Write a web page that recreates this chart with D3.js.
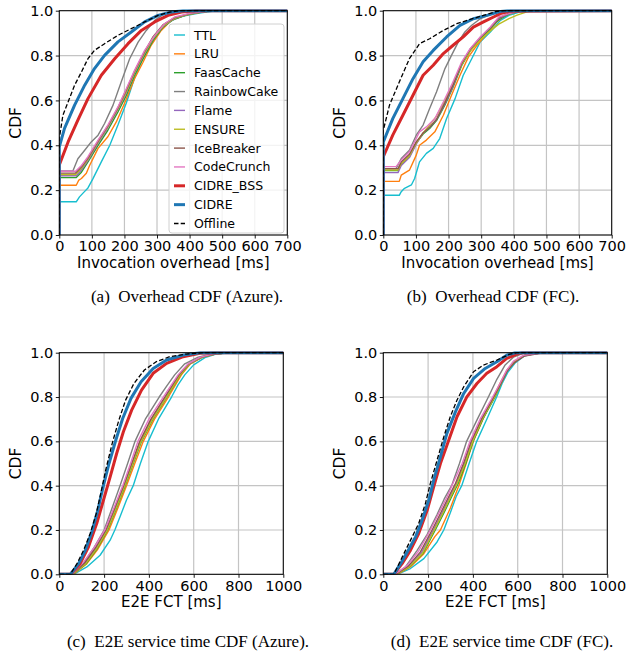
<!DOCTYPE html>
<html>
<head>
<meta charset="utf-8">
<script src="https://cdn.jsdelivr.net/npm/d3@7"></script>
<style>
  body { margin: 0; background: #fff; }
  text { font-family: "DejaVu Sans", sans-serif; }
  .caption { font-family: "Liberation Serif", "DejaVu Serif", serif; }
</style>
</head>
<body>
<svg id="chart" width="635" height="655"></svg>
<script>
const seriesNames = ["TTL", "LRU", "FaasCache", "RainbowCake", "Flame", "ENSURE",
  "IceBreaker", "CodeCrunch", "CIDRE_BSS", "CIDRE", "Offline"];

const yTicks = [0, 0.2, 0.4, 0.6, 0.8, 1.0];
const overheadTicks = [0, 100, 200, 300, 400, 500, 600, 700];
const fctTicks = [0, 200, 400, 600, 800, 1000];

// (a) overhead, Azure: [ms, cdf]
const overheadAzure = {
  TTL: [[0,0],[0,0.148],[52,0.148],[62,0.17],[75,0.19],[88,0.21],[103,0.25],[129,0.326],[155,0.40],[180,0.49],[206,0.59],[231,0.70],[257,0.79],[282,0.86],[303,0.905],[334,0.95],[380,0.976],[430,0.99],[480,1],[700,1]],
  LRU: [[0,0],[0,0.222],[52,0.222],[60,0.245],[68,0.252],[83,0.275],[93,0.31],[119,0.386],[149,0.438],[175,0.504],[200,0.586],[231,0.697],[257,0.77],[282,0.846],[313,0.912],[344,0.957],[385,0.979],[440,0.995],[480,1],[700,1]],
  FaasCache: [[0,0],[0,0.256],[52,0.256],[68,0.28],[88,0.326],[119,0.40],[149,0.467],[180,0.549],[206,0.623],[231,0.712],[262,0.80],[288,0.868],[318,0.927],[354,0.964],[400,0.985],[460,0.998],[700,1]],
  RainbowCake: [[0,0],[0,0.286],[42,0.286],[57,0.34],[78,0.378],[98,0.415],[119,0.445],[139,0.497],[165,0.579],[190,0.682],[216,0.786],[242,0.86],[267,0.912],[293,0.957],[323,0.987],[360,0.998],[700,1]],
  Flame: [[0,0],[0,0.264],[52,0.264],[68,0.29],[88,0.333],[119,0.41],[149,0.478],[180,0.56],[206,0.635],[231,0.722],[262,0.81],[288,0.875],[318,0.93],[354,0.966],[400,0.986],[460,0.998],[700,1]],
  ENSURE: [[0,0],[0,0.27],[50,0.27],[68,0.297],[88,0.338],[119,0.415],[149,0.483],[180,0.563],[206,0.64],[231,0.725],[262,0.813],[288,0.878],[318,0.932],[354,0.967],[400,0.986],[460,0.998],[700,1]],
  IceBreaker: [[0,0],[0,0.276],[50,0.276],[68,0.303],[88,0.343],[119,0.418],[149,0.486],[180,0.567],[206,0.648],[231,0.73],[262,0.818],[288,0.884],[318,0.937],[354,0.969],[400,0.987],[460,0.998],[700,1]],
  CodeCrunch: [[0,0],[0,0.284],[50,0.284],[68,0.31],[88,0.349],[119,0.423],[149,0.49],[180,0.571],[206,0.653],[231,0.734],[262,0.823],[293,0.89],[323,0.942],[354,0.972],[400,0.988],[460,0.998],[700,1]],
  CIDRE_BSS: [[0,0],[0,0.312],[27,0.415],[57,0.512],[88,0.608],[129,0.712],[170,0.786],[211,0.853],[252,0.912],[293,0.95],[334,0.979],[375,0.994],[420,1],[700,1]],
  CIDRE: [[0,0],[0,0.393],[16,0.475],[47,0.579],[78,0.668],[108,0.742],[139,0.801],[180,0.861],[221,0.905],[262,0.95],[303,0.979],[344,0.994],[380,1],[700,1]],
  Offline: [[0,0],[0,0.43],[11,0.534],[27,0.593],[47,0.668],[68,0.727],[88,0.786],[108,0.823],[139,0.853],[180,0.89],[221,0.92],[262,0.95],[303,0.979],[339,0.994],[370,1],[700,1]]
};

// (b) overhead, FC
const overheadFC = {
  TTL: [[0,0],[0,0.177],[49,0.177],[55,0.193],[65,0.208],[86,0.223],[96,0.252],[111,0.326],[132,0.364],[153,0.386],[173,0.43],[194,0.519],[220,0.608],[245,0.712],[271,0.786],[297,0.861],[328,0.905],[359,0.957],[385,0.979],[420,0.995],[450,1],[700,1]],
  LRU: [[0,0],[0,0.239],[49,0.239],[55,0.267],[80,0.289],[101,0.356],[111,0.40],[132,0.423],[158,0.46],[184,0.534],[209,0.623],[235,0.712],[261,0.794],[287,0.846],[318,0.898],[348,0.95],[374,0.979],[410,0.995],[440,1],[700,1]],
  FaasCache: [[0,0],[0,0.287],[45,0.287],[55,0.315],[80,0.35],[101,0.41],[122,0.45],[142,0.475],[163,0.51],[189,0.58],[214,0.66],[240,0.755],[266,0.82],[297,0.875],[328,0.92],[354,0.96],[385,0.985],[420,0.998],[700,1]],
  RainbowCake: [[0,0],[0,0.296],[39,0.296],[55,0.341],[80,0.378],[101,0.445],[122,0.49],[142,0.564],[163,0.638],[189,0.742],[209,0.801],[230,0.861],[250,0.905],[271,0.935],[297,0.964],[330,0.985],[365,0.998],[700,1]],
  Flame: [[0,0],[0,0.278],[45,0.278],[55,0.31],[80,0.345],[101,0.405],[122,0.455],[142,0.48],[163,0.515],[189,0.585],[214,0.665],[240,0.76],[266,0.825],[297,0.88],[328,0.925],[354,0.965],[385,0.987],[420,0.998],[700,1]],
  ENSURE: [[0,0],[0,0.29],[45,0.29],[55,0.318],[80,0.352],[101,0.41],[122,0.455],[142,0.49],[163,0.53],[189,0.6],[214,0.675],[240,0.76],[266,0.82],[297,0.87],[328,0.91],[354,0.94],[385,0.965],[410,0.98],[440,0.995],[460,1],[700,1]],
  IceBreaker: [[0,0],[0,0.296],[45,0.296],[55,0.325],[80,0.36],[101,0.415],[122,0.455],[142,0.48],[163,0.515],[189,0.59],[214,0.67],[240,0.765],[266,0.828],[297,0.88],[328,0.925],[354,0.967],[385,0.988],[420,0.998],[700,1]],
  CodeCrunch: [[0,0],[0,0.305],[39,0.305],[55,0.334],[80,0.371],[111,0.46],[132,0.482],[158,0.519],[184,0.593],[209,0.668],[240,0.771],[266,0.831],[297,0.883],[328,0.927],[354,0.972],[385,0.987],[420,0.998],[700,1]],
  CIDRE_BSS: [[0,0],[0,0.349],[29,0.445],[60,0.534],[91,0.623],[122,0.712],[153,0.757],[184,0.809],[214,0.846],[245,0.883],[276,0.927],[307,0.95],[338,0.972],[359,0.987],[390,0.998],[700,1]],
  CIDRE: [[0,0],[0,0.415],[29,0.519],[60,0.608],[91,0.697],[122,0.772],[153,0.823],[194,0.883],[235,0.935],[276,0.964],[318,0.979],[359,0.997],[380,1],[700,1]],
  Offline: [[0,0],[0,0.467],[19,0.579],[49,0.682],[80,0.786],[111,0.853],[142,0.875],[184,0.912],[225,0.942],[266,0.961],[307,0.979],[348,0.997],[370,1],[700,1]]
};

// (c) E2E FCT, Azure
const fctAzure = {
  TTL: [[0,0],[64,0],[123,0.033],[182,0.086],[227,0.154],[248,0.2],[275,0.27],[300,0.335],[330,0.4],[362,0.5],[397,0.6],[445,0.705],[501,0.8],[530,0.855],[560,0.9],[600,0.945],[650,0.978],[700,0.994],[760,1],[1000,1]],
  LRU: [[0,0],[64,0],[123,0.048],[170,0.11],[222,0.2],[262,0.3],[300,0.4],[337,0.5],[375,0.6],[425,0.7],[487,0.8],[545,0.9],[585,0.95],[640,0.98],[700,0.995],[760,1],[1000,1]],
  FaasCache: [[0,0],[60,0],[120,0.048],[168,0.115],[216,0.2],[256,0.3],[294,0.4],[330,0.5],[367,0.6],[418,0.7],[480,0.8],[540,0.9],[582,0.95],[638,0.98],[700,0.995],[760,1],[1000,1]],
  RainbowCake: [[0,0],[56,0],[108,0.048],[155,0.12],[200,0.2],[236,0.3],[271,0.4],[305,0.5],[338,0.6],[384,0.7],[446,0.8],[480,0.85],[515,0.9],[560,0.95],[620,0.98],[680,0.995],[730,1],[1000,1]],
  Flame: [[0,0],[58,0],[115,0.05],[165,0.12],[212,0.2],[252,0.3],[290,0.4],[326,0.5],[363,0.6],[413,0.7],[476,0.8],[537,0.9],[580,0.95],[636,0.98],[700,0.995],[760,1],[1000,1]],
  ENSURE: [[0,0],[60,0],[118,0.048],[167,0.117],[214,0.2],[254,0.3],[292,0.4],[328,0.5],[365,0.6],[416,0.7],[478,0.8],[539,0.9],[581,0.95],[637,0.98],[700,0.995],[760,1],[1000,1]],
  IceBreaker: [[0,0],[58,0],[112,0.05],[162,0.12],[208,0.2],[248,0.3],[287,0.4],[323,0.5],[359,0.6],[409,0.7],[471,0.8],[534,0.9],[578,0.95],[634,0.98],[700,0.995],[760,1],[1000,1]],
  CodeCrunch: [[0,0],[56,0],[108,0.055],[158,0.125],[203,0.2],[244,0.3],[283,0.4],[318,0.5],[351,0.6],[400,0.7],[464,0.8],[530,0.9],[575,0.95],[630,0.98],[690,0.995],[750,1],[1000,1]],
  CIDRE_BSS: [[0,0],[49,0],[93,0.048],[130,0.123],[167,0.229],[197,0.334],[227,0.44],[256,0.545],[286,0.643],[323,0.741],[367,0.831],[419,0.907],[479,0.952],[553,0.982],[627,0.997],[700,1],[1000,1]],
  CIDRE: [[0,0],[49,0],[86,0.048],[116,0.108],[145,0.191],[172,0.289],[192,0.38],[222,0.50],[252,0.605],[283,0.703],[320,0.794],[365,0.869],[419,0.929],[479,0.967],[553,0.989],[627,1],[1000,1]],
  Offline: [[0,0],[49,0],[79,0.048],[108,0.108],[138,0.184],[165,0.274],[185,0.364],[207,0.47],[236,0.59],[266,0.696],[296,0.786],[333,0.861],[380,0.922],[434,0.96],[493,0.982],[567,0.994],[641,1],[1000,1]]
};

// (d) E2E FCT, FC
const fctFC = {
  TTL: [[0,0],[62,0],[121,0.026],[181,0.071],[240,0.146],[270,0.2],[300,0.28],[325,0.35],[350,0.4],[383,0.5],[417,0.6],[462,0.7],[506,0.8],[530,0.86],[555,0.91],[590,0.955],[630,0.985],[680,0.998],[720,1],[1000,1]],
  LRU: [[0,0],[62,0],[121,0.033],[181,0.093],[230,0.17],[255,0.2],[300,0.3],[337,0.4],[370,0.5],[402,0.6],[445,0.7],[492,0.8],[525,0.87],[555,0.925],[596,0.967],[640,0.994],[700,1],[1000,1]],
  FaasCache: [[0,0],[57,0],[118,0.035],[178,0.096],[232,0.2],[272,0.28],[305,0.35],[334,0.41],[368,0.5],[401,0.6],[444,0.7],[499,0.8],[529,0.868],[556,0.925],[595,0.965],[635,0.99],[700,0.998],[740,1],[1000,1]],
  RainbowCake: [[0,0],[52,0],[99,0.033],[151,0.108],[196,0.18],[240,0.27],[272,0.34],[305,0.4],[340,0.5],[372,0.6],[420,0.7],[469,0.8],[507,0.88],[544,0.945],[581,0.98],[625,0.997],[660,1],[1000,1]],
  Flame: [[0,0],[55,0],[115,0.036],[170,0.097],[224,0.2],[264,0.28],[297,0.35],[327,0.41],[362,0.5],[396,0.6],[440,0.7],[495,0.8],[527,0.865],[553,0.92],[588,0.96],[630,0.987],[700,0.998],[740,1],[1000,1]],
  ENSURE: [[0,0],[57,0],[117,0.035],[175,0.095],[228,0.2],[268,0.28],[301,0.35],[330,0.41],[365,0.5],[399,0.6],[442,0.7],[497,0.8],[528,0.866],[554,0.922],[590,0.963],[632,0.988],[700,0.998],[740,1],[1000,1]],
  IceBreaker: [[0,0],[55,0],[112,0.038],[165,0.1],[218,0.2],[258,0.28],[292,0.35],[322,0.41],[358,0.5],[392,0.6],[438,0.7],[493,0.8],[525,0.86],[552,0.915],[585,0.955],[630,0.985],[700,0.997],[750,1],[1000,1]],
  CodeCrunch: [[0,0],[52,0],[107,0.04],[158,0.105],[210,0.2],[250,0.28],[285,0.35],[315,0.42],[352,0.5],[387,0.6],[432,0.7],[488,0.8],[520,0.86],[550,0.92],[581,0.962],[625,0.988],[700,0.998],[750,1],[1000,1]],
  CIDRE_BSS: [[0,0],[47,0],[84,0.048],[121,0.108],[158,0.184],[196,0.289],[225,0.395],[255,0.50],[292,0.605],[329,0.711],[373,0.801],[418,0.861],[462,0.907],[507,0.937],[551,0.974],[596,0.994],[620,1],[1000,1]],
  CIDRE: [[0,0],[47,0],[77,0.048],[107,0.101],[144,0.169],[173,0.244],[203,0.334],[225,0.425],[255,0.53],[284,0.636],[322,0.733],[359,0.816],[403,0.884],[455,0.929],[507,0.959],[551,0.989],[588,1],[1000,1]],
  Offline: [[0,0],[47,0],[70,0.048],[99,0.108],[129,0.169],[158,0.229],[188,0.319],[210,0.41],[240,0.515],[270,0.62],[299,0.711],[329,0.786],[359,0.846],[403,0.914],[447,0.944],[507,0.967],[566,0.994],[596,1],[1000,1]]
};

// line styles (matplotlib tab10)
const styles = {
  TTL: { color: "#17becf", width: 1.4 },
  LRU: { color: "#ff7f0e", width: 1.4 },
  FaasCache: { color: "#2ca02c", width: 1.4 },
  RainbowCake: { color: "#7f7f7f", width: 1.4 },
  Flame: { color: "#9467bd", width: 1.4 },
  ENSURE: { color: "#bcbd22", width: 1.4 },
  IceBreaker: { color: "#8c564b", width: 1.4 },
  CodeCrunch: { color: "#e377c2", width: 1.4 },
  CIDRE_BSS: { color: "#d62728", width: 3 },
  CIDRE: { color: "#1f77b4", width: 3 },
  Offline: { color: "#000", width: 1.3, dash: "4.5,2.2" }
};

const svg = d3.select("#chart");

const panels = [
  { id: "a", x0: 59.3, x1: 287.3, y0: 10.7, y1: 235, xmax: 700, ticks: overheadTicks,
    data: overheadAzure, xlabel: "Invocation overhead [ms]", caption: "(a)  Overhead CDF (Azure).",
    capX: 187, capY: 302, legend: true },
  { id: "b", x0: 383.3, x1: 611.7, y0: 10.7, y1: 235, xmax: 700, ticks: overheadTicks,
    data: overheadFC, xlabel: "Invocation overhead [ms]", caption: "(b)  Overhead CDF (FC).",
    capX: 493, capY: 302 },
  { id: "c", x0: 59.3, x1: 283.3, y0: 352.7, y1: 574.3, xmax: 1000, ticks: fctTicks,
    data: fctAzure, xlabel: "E2E FCT [ms]", caption: "(c)  E2E service time CDF (Azure).",
    capX: 188, capY: 647 },
  { id: "d", x0: 383.3, x1: 607.3, y0: 352.7, y1: 574.3, xmax: 1000, ticks: fctTicks,
    data: fctFC, xlabel: "E2E FCT [ms]", caption: "(d)  E2E service time CDF (FC).",
    capX: 502, capY: 647 }
];

panels.forEach(p => drawPanel(p));

function drawPanel(p) {
  const x = d3.scaleLinear().domain([0, p.xmax]).range([p.x0, p.x1]);
  const y = d3.scaleLinear().domain([0, 1]).range([p.y1, p.y0]);
  const g = svg.append("g");

  g.append("clipPath").attr("id", "clip-" + p.id)
    .append("rect")
    .attr("x", p.x0).attr("y", p.y0 - 1.5)
    .attr("width", p.x1 - p.x0 + 1.5).attr("height", p.y1 - p.y0 + 1.5);

  // grid
  g.append("g").selectAll("line").data(p.ticks).join("line")
    .attr("x1", d => x(d)).attr("x2", d => x(d))
    .attr("y1", p.y0).attr("y2", p.y1)
    .attr("stroke", "#c4c4c4").attr("stroke-width", 1.2);
  g.append("g").selectAll("line").data(yTicks).join("line")
    .attr("x1", p.x0).attr("x2", p.x1)
    .attr("y1", d => y(d)).attr("y2", d => y(d))
    .attr("stroke", "#c4c4c4").attr("stroke-width", 1.2);

  const line = d3.line().x(d => x(d[0])).y(d => y(d[1]));
  const lines = g.append("g").attr("clip-path", "url(#clip-" + p.id + ")");
  seriesNames.forEach(name => {
    const s = styles[name];
    lines.append("path")
      .datum(p.data[name])
      .attr("d", line)
      .attr("fill", "none")
      .attr("stroke", s.color)
      .attr("stroke-width", s.width)
      .attr("stroke-dasharray", s.dash || null)
      .attr("stroke-linejoin", "round");
  });

  // axes
  const xAxis = g.append("g").attr("transform", "translate(0," + p.y1 + ")")
    .call(d3.axisBottom(x).tickValues(p.ticks).tickSize(3.5).tickPadding(2.5).tickFormat(d3.format("d")));
  const yAxis = g.append("g").attr("transform", "translate(" + p.x0 + ",0)")
    .call(d3.axisLeft(y).tickValues(yTicks).tickSize(3.5).tickPadding(2.5).tickFormat(d3.format(".1f")));
  [xAxis, yAxis].forEach(a => {
    a.select(".domain").remove();
    a.selectAll("text").attr("font-size", 14.5).attr("fill", "#000")
      .attr("font-family", "DejaVu Sans, sans-serif");
    a.selectAll("line").attr("stroke", "#000").attr("stroke-width", 0.9);
  });

  g.append("rect")
    .attr("x", p.x0).attr("y", p.y0)
    .attr("width", p.x1 - p.x0).attr("height", p.y1 - p.y0)
    .attr("fill", "none").attr("stroke", "#000").attr("stroke-width", 1);

  // labels
  g.append("text")
    .attr("x", (p.x0 + p.x1) / 2).attr("y", p.y1 + 33)
    .attr("text-anchor", "middle").attr("font-size", 15)
    .text(p.xlabel);
  g.append("text")
    .attr("transform", "translate(" + (p.x0 - 38) + "," + ((p.y0 + p.y1) / 2) + ") rotate(-90)")
    .attr("text-anchor", "middle").attr("font-size", 15.5)
    .text("CDF");
  g.append("text")
    .attr("class", "caption")
    .attr("x", p.capX).attr("y", p.capY)
    .attr("text-anchor", "middle").attr("font-size", 17)
    .attr("xml:space", "preserve")
    .style("white-space", "pre")
    .text(p.caption);

  if (p.legend) drawLegend(g, p);
}

function drawLegend(g, p) {
  const lx = 169, ly = 24, lw = 115, lh = 209;
  const lg = g.append("g");
  lg.append("rect")
    .attr("x", lx).attr("y", ly).attr("width", lw).attr("height", lh)
    .attr("rx", 3)
    .attr("fill", "#fff").attr("fill-opacity", 0.8)
    .attr("stroke", "#d0d0d0").attr("stroke-width", 1);
  const rowY = d3.scalePoint().domain(seriesNames).range([35, 223.5]);
  seriesNames.forEach(name => {
    const s = styles[name];
    const yy = rowY(name);
    lg.append("line")
      .attr("x1", 174).attr("x2", 185)
      .attr("y1", yy).attr("y2", yy)
      .attr("stroke", s.color).attr("stroke-width", s.width)
      .attr("stroke-dasharray", s.dash || null);
    lg.append("text")
      .attr("x", 194).attr("y", yy)
      .attr("dy", "0.36em")
      .attr("font-size", 12.5)
      .text(name);
  });
}
</script>
</body>
</html>
